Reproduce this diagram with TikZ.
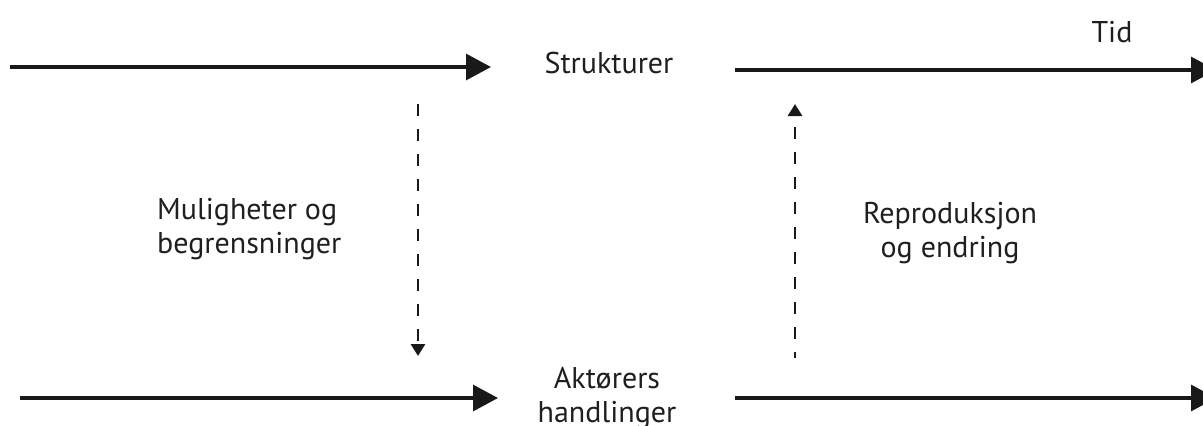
\documentclass[tikz,border=0pt]{standalone}
\usepackage{fontspec}
\setmainfont{PT Sans}
\usetikzlibrary{arrows.meta}
\begin{document}
\begin{tikzpicture}[x=1pt,y=-1pt,
  lbl/.style={font=\fontsize{30}{34}\selectfont, text=black!88, align=center, inner sep=0pt},
  mainarr/.style={line width=3.2pt, draw=black!90, -{Triangle[length=25pt,width=26pt]}},
  dasharr/.style={line width=2.8pt, draw=black!90, dash pattern=on 12pt off 13pt, -{Triangle[length=12pt,width=14pt]}}]
\useasboundingbox (0,0) rectangle (1203,426);
\node[lbl] (strukt) at (609,63) {Strukturer};
\node[lbl] (tid) at (1112,32) {Tid};
\node[lbl, align=left, anchor=west] (mul) at (157,229) {Muligheter og\\begrensninger};
\node[lbl] (rep) at (950,233) {Reproduksjon\\og endring};
\node[lbl] (akt) at (607,398) {Aktørers\\handlinger};
\coordinate (t0) at (10,67);
\coordinate (t1) at (491,67);
\coordinate (t2) at (735,70);
\coordinate (t3) at (1216,70);
\coordinate (b0) at (20,398);
\coordinate (b1) at (498,398);
\coordinate (b2) at (735,398);
\coordinate (b3) at (1216,398);
\coordinate (d0) at (418,104);
\coordinate (d1) at (418,356);
\coordinate (u0) at (795,358);
\coordinate (u1) at (795,104);
\draw[mainarr] (t0) -- (t1);
\draw[mainarr] (t2) -- (t3);
\draw[mainarr] (b0) -- (b1);
\draw[mainarr] (b2) -- (b3);
\draw[dasharr] (d0) -- (d1);
\draw[dasharr, dash phase=6pt] (u0) -- (u1);
\end{tikzpicture}
\end{document}
